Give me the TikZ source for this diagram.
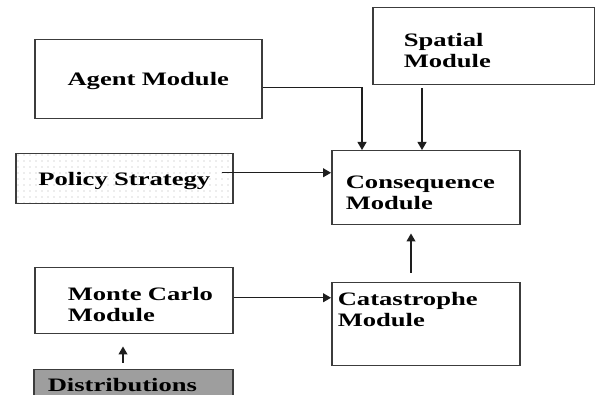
\documentclass[tikz,border=0pt]{standalone}
\usepackage{fontspec}
\setmainfont{Liberation Serif}[FakeStretch=1.4]
\usetikzlibrary{arrows.meta,patterns.meta}

\begin{document}
\begin{tikzpicture}[x=1pt, y=-1pt,
	module/.style = {draw={rgb,255:red,60; green,60; blue,60}, line width = 1.5pt, anchor = north west, inner ysep = 0pt, align = left, font = \bfseries\fontsize{19}{20.5}\selectfont},
	arr/.style = {-{Triangle[length = 8pt, width = 9pt]}, line width = 1.1pt, draw={rgb,255:red,30; green,30; blue,30}}]
	\useasboundingbox (0,0) rectangle (595,395);
	% Boxes
	\node[module, align = center, inner xsep = 4pt, text width = 219pt, text height = 46pt, text depth = 33pt] at (34, 39) (agent) {Agent Module};
	\node[module, inner xsep = 31pt, text width = 160pt, text height = 39pt, text depth = 38pt] at (372, 7) (spatial) {Spatial\\Module};
	\node[module, align = center, pattern = {Dots[distance = 6pt, radius = 0.55pt]}, pattern color = gray!60, inner xsep = 4pt, text width = 209pt, text height = 32pt, text depth = 18pt] at (15, 153) (pol) {Policy Strategy};
	\node[module, inner xsep = 14pt, text width = 160pt, text height = 38pt, text depth = 36pt] at (331, 150) (cons) {Consequence\\Module};
	\node[module, inner xsep = 33pt, text width = 132pt, text height = 33pt, text depth = 33pt] at (34, 267) (monte) {Monte~Carlo\\Module};
	\node[module, inner xsep = 6pt, text width = 176pt, text height = 23pt, text depth = 60pt] at (331, 282) (cata) {Catastrophe\\Module};
	\node[module, fill = {rgb,255:red,158; green,158; blue,158}, inner xsep = 14pt, text width = 171pt, text height = 22pt, text depth = 10pt] at (33, 369) (dist) {Distributions};
	% Arrows into consequence
	\draw[arr] ([yshift = -8.5pt]agent.east) -| ([xshift = 31pt]cons.north west);
	\draw[arr] ([xshift = 50pt, yshift = -3pt]spatial.south west) -- ([xshift = 91pt]cons.north west);
	\draw[arr] ([xshift = -12pt, yshift = 6pt]pol.east) coordinate (polout) -- (polout -| cons.west);
	\draw[arr, shorten < = 9pt, shorten > = 8pt] ([xshift = 80pt]cata.north west) -- ([xshift = 80pt]cons.south west);
	% Lower chain
	\draw[arr] ([yshift = 3pt]monte.east) coordinate (mcout) -- (mcout -| cata.west);
	\draw[arr, shorten < = 6pt, shorten > = 12pt] ([xshift = 90pt]dist.north west) -- ([xshift = 89pt]monte.south west);
\end{tikzpicture}
\end{document}
